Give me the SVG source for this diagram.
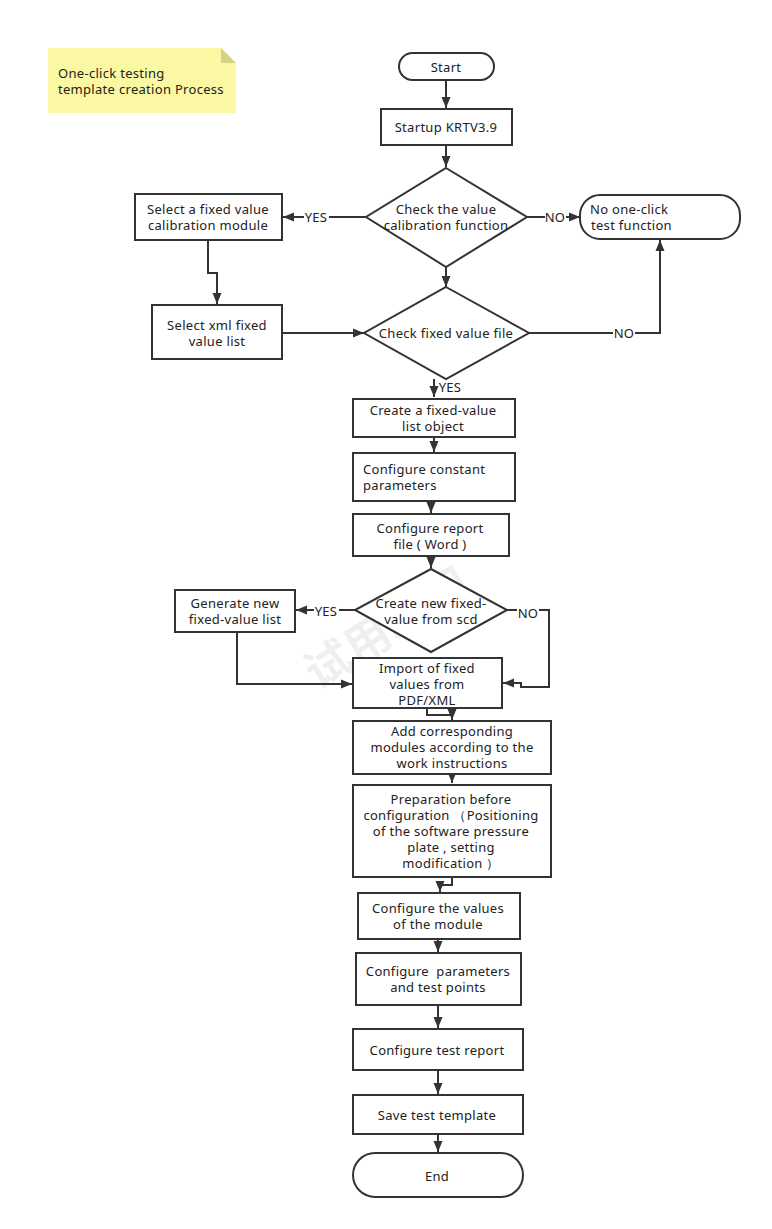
<svg xmlns="http://www.w3.org/2000/svg" width="772" height="1229" viewBox="0 0 772 1229">
<defs>
<marker id="arr" markerUnits="userSpaceOnUse" markerWidth="12" markerHeight="10" refX="11" refY="5" orient="auto">
<path d="M0,0.5 L11,5 L0,9.5 z" fill="#333"/>
</marker>
</defs>
<style>
.box{fill:#fff;stroke:#333;stroke-width:2}
.t{font-family:"Noto Sans","Open Sans","DejaVu Sans",sans-serif;font-size:13px;letter-spacing:0.3px;fill:#222;text-anchor:middle;dominant-baseline:central}
.l{text-anchor:start}
.c{fill:none;stroke:#333;stroke-width:2}
.lbl{fill:#fff}
</style>
<rect width="772" height="1229" fill="#fff"/>
<text x="385" y="625" transform="rotate(-32 385 625)" font-family="'Noto Sans CJK SC',sans-serif" font-size="46" font-weight="bold" fill="#000" fill-opacity="0.07" text-anchor="middle" dominant-baseline="central">试用水印</text>

<g id="note">
<path d="M48,48 L221,48 L236,63 L236,113 L48,113 z" fill="#fbf8a3"/>
<path d="M221,48 L236,63 L221,63 z" fill="#d7d384"/>
<text class="t l" x="58" y="73">One-click testing</text>
<text class="t l" x="58" y="89">template creation Process</text>
</g>

<g id="connectors">
<path class="c" d="M446,80 L446,108" marker-end="url(#arr)"/>
<path class="c" d="M446,145 L446,167" marker-end="url(#arr)"/>
<path class="c" d="M366,217 L283,217" marker-end="url(#arr)"/>
<path class="c" d="M527,217 L580,217" marker-end="url(#arr)"/>
<path class="c" d="M208,240 L208,273 L217,273 L217,304" marker-end="url(#arr)"/>
<path class="c" d="M446,267 L446,287" marker-end="url(#arr)"/>
<path class="c" d="M282,333 L364,333" marker-end="url(#arr)"/>
<path class="c" d="M529,333 L660,333 L660,240" marker-end="url(#arr)"/>
<path class="c" d="M434,379 L434,397" marker-end="url(#arr)"/>
<path class="c" d="M434,437 L434,452" marker-end="url(#arr)"/>
<path class="c" d="M431,501 L431,513" marker-end="url(#arr)"/>
<path class="c" d="M431,556 L431,568" marker-end="url(#arr)"/>
<path class="c" d="M355,610 L296,610" marker-end="url(#arr)"/>
<path class="c" d="M237,632 L237,684 L352,684" marker-end="url(#arr)"/>
<path class="c" d="M507,610 L549,610 L549,687 L521,687 L521,683 L503,683" marker-end="url(#arr)"/>
<path class="c" d="M427,708 L427,715 L452,715 L452,720" marker-end="url(#arr)"/>
<path class="c" d="M452,774 L452,783" marker-end="url(#arr)"/>
<path class="c" d="M452,877 L452,885 L440,885 L440,892" marker-end="url(#arr)"/>
<path class="c" d="M438,939 L438,952" marker-end="url(#arr)"/>
<path class="c" d="M438,1005 L438,1028" marker-end="url(#arr)"/>
<path class="c" d="M438,1070 L438,1094" marker-end="url(#arr)"/>
<path class="c" d="M438,1134 L438,1152" marker-end="url(#arr)"/>
<rect class="lbl" x="304" y="209" width="25" height="16"/>
<text class="t" x="316" y="217">YES</text>
<rect class="lbl" x="545" y="209" width="21" height="16"/>
<text class="t" x="555" y="217">NO</text>
<rect class="lbl" x="613" y="325" width="22" height="16"/>
<text class="t" x="624" y="333">NO</text>
<text class="t" x="450" y="387">YES</text>
<rect class="lbl" x="314" y="602" width="25" height="16"/>
<text class="t" x="326" y="611">YES</text>
<rect class="lbl" x="517" y="605" width="22" height="16"/>
<text class="t" x="528" y="613">NO</text>
</g>

<g id="start">
<rect class="box" x="399" y="53" width="95" height="27" rx="13.5"/>
<text class="t" x="446" y="67">Start</text>
</g>
<g id="startup">
<rect class="box" x="381" y="109" width="131" height="36"/>
<text class="t" x="446" y="127">Startup KRTV3.9</text>
</g>
<g id="check-calibration">
<path class="box" d="M446,168 L527,217 L446,267 L366,217 z"/>
<text class="t" x="446" y="209">Check the value</text>
<text class="t" x="446" y="225">calibration function</text>
</g>
<g id="select-module">
<rect class="box" x="135" y="194" width="147" height="46"/>
<text class="t" x="208" y="209">Select a fixed value</text>
<text class="t" x="208" y="225">calibration module</text>
</g>
<g id="no-function">
<rect class="box" x="580" y="195" width="160" height="44" rx="20"/>
<text class="t l" x="590" y="209">No one-click</text>
<text class="t l" x="591" y="225">test function</text>
</g>
<g id="select-xml">
<rect class="box" x="152" y="305" width="130" height="54"/>
<text class="t" x="217" y="325">Select xml fixed</text>
<text class="t" x="217" y="341">value list</text>
</g>
<g id="check-file">
<path class="box" d="M446,287 L529,333 L446,379 L364,333 z"/>
<text class="t" x="446" y="333">Check fixed value file</text>
</g>
<g id="create-object">
<rect class="box" x="353" y="399" width="162" height="38"/>
<text class="t" x="433" y="410">Create a fixed-value</text>
<text class="t" x="433" y="426">list object</text>
</g>
<g id="configure-constant">
<rect class="box" x="353" y="453" width="162" height="48"/>
<text class="t l" x="363" y="469">Configure constant</text>
<text class="t l" x="363" y="485">parameters</text>
</g>
<g id="configure-report-file">
<rect class="box" x="353" y="514" width="156" height="42"/>
<text class="t" x="430" y="528">Configure report</text>
<text class="t" x="430" y="544">file ( Word )</text>
</g>
<g id="create-from-scd">
<path class="box" d="M431,569 L507,610 L431,652 L355,610 z"/>
<text class="t" x="431" y="603">Create new fixed-</text>
<text class="t" x="431" y="619">value from scd</text>
</g>
<g id="generate-list">
<rect class="box" x="175" y="590" width="120" height="42"/>
<text class="t" x="235" y="603">Generate new</text>
<text class="t" x="235" y="619">fixed-value list</text>
</g>
<g id="import">
<rect class="box" x="353" y="658" width="149" height="50"/>
<text class="t" x="427" y="668">Import of fixed</text>
<text class="t" x="427" y="684">values from</text>
<text class="t" x="427" y="700">PDF/XML</text>
</g>
<g id="add-modules">
<rect class="box" x="353" y="721" width="198" height="53"/>
<text class="t" x="452" y="731">Add corresponding</text>
<text class="t" x="452" y="747">modules according to the</text>
<text class="t" x="452" y="763">work instructions</text>
</g>
<g id="preparation">
<rect class="box" x="353" y="785" width="198" height="92"/>
<text class="t" x="451" y="799">Preparation before</text>
<text class="t" x="451" y="815">configuration （Positioning</text>
<text class="t" x="451" y="831">of the software pressure</text>
<text class="t" x="451" y="847">plate , setting</text>
<text class="t" x="451" y="863">modification ）</text>
</g>
<g id="configure-values">
<rect class="box" x="358" y="893" width="162" height="46"/>
<text class="t" x="438" y="908">Configure the values</text>
<text class="t" x="438" y="924">of the module</text>
</g>
<g id="configure-params">
<rect class="box" x="356" y="953" width="165" height="52"/>
<text class="t" x="438" y="971">Configure&#160; parameters</text>
<text class="t" x="438" y="987">and test points</text>
</g>
<g id="configure-test-report">
<rect class="box" x="353" y="1029" width="170" height="41"/>
<text class="t" x="437" y="1050">Configure test report</text>
</g>
<g id="save-template">
<rect class="box" x="353" y="1095" width="170" height="39"/>
<text class="t" x="437" y="1115">Save test template</text>
</g>
<g id="end">
<rect class="box" x="353" y="1153" width="170" height="44" rx="22"/>
<text class="t" x="437" y="1176">End</text>
</g>
</svg>
